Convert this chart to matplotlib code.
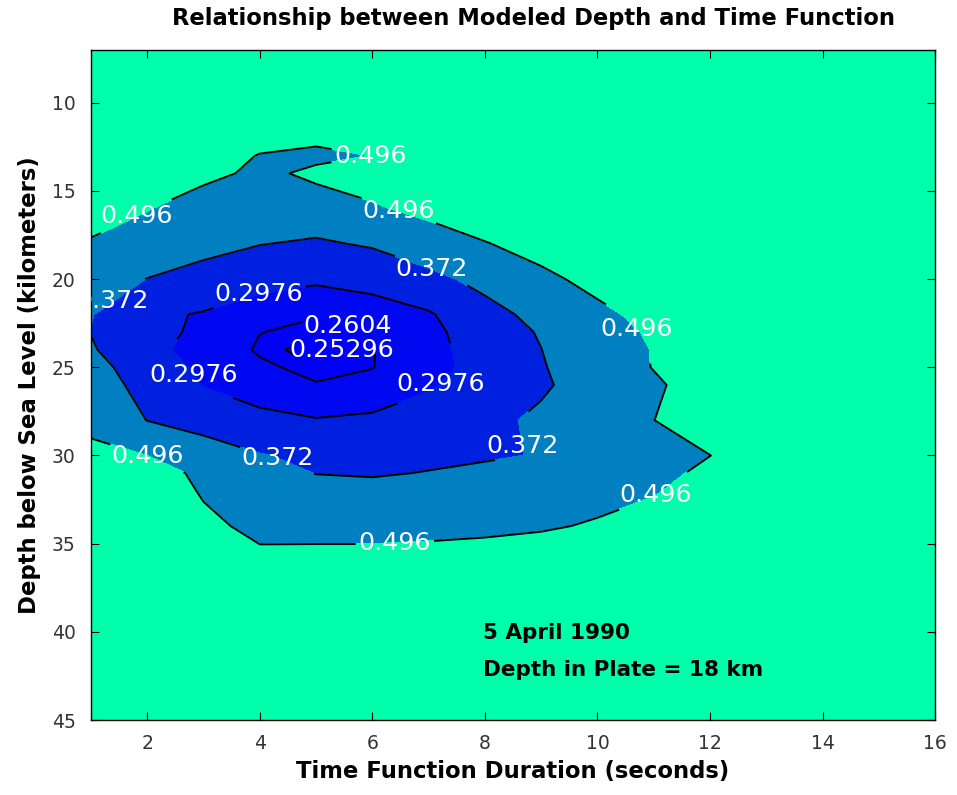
import matplotlib
matplotlib.use("Agg")
import matplotlib.pyplot as plt
import numpy as np

plt.rcParams['font.family'] = ['DejaVu Sans']

# time function duration (s) and modeled depth (km) of the grid search
duration_s = [1, 2, 3, 4, 5, 6, 7, 8, 9, 10, 11, 12, 13, 16]
depth_km = [7, 12, 13, 14, 15, 16, 18, 20, 22, 23, 24, 25, 26, 28, 30, 31, 32, 34, 36, 45]

# waveform misfit, one row per depth
misfit = [
    [0.95, 0.92, 0.88, 0.85, 0.83, 0.84, 0.86, 0.88, 0.90, 0.92, 0.94, 0.96, 0.98, 1.05],
    [0.75, 0.68, 0.61, 0.54, 0.52, 0.53, 0.60, 0.64, 0.68, 0.72, 0.76, 0.80, 0.84, 0.92],
    [0.70, 0.63, 0.56, 0.49, 0.47, 0.497, 0.56, 0.60, 0.64, 0.68, 0.72, 0.76, 0.80, 0.90],
    [0.66, 0.59, 0.53, 0.47, 0.52, 0.52, 0.55, 0.59, 0.63, 0.67, 0.71, 0.75, 0.79, 0.88],
    [0.62, 0.55, 0.48, 0.45, 0.48, 0.52, 0.55, 0.58, 0.62, 0.66, 0.70, 0.74, 0.78, 0.86],
    [0.57, 0.50, 0.45, 0.42, 0.42, 0.48, 0.53, 0.57, 0.61, 0.65, 0.69, 0.73, 0.77, 0.85],
    [0.48, 0.445, 0.395, 0.374, 0.362, 0.38, 0.43, 0.49, 0.54, 0.58, 0.62, 0.66, 0.70, 0.80],
    [0.42, 0.37, 0.345, 0.32, 0.305, 0.315, 0.345, 0.40, 0.47, 0.53, 0.57, 0.61, 0.65, 0.76],
    [0.375, 0.31, 0.293, 0.265, 0.262, 0.275, 0.292, 0.34, 0.40, 0.47, 0.53, 0.57, 0.61, 0.72],
    [0.37, 0.31, 0.29, 0.261, 0.2545, 0.2602, 0.287, 0.32, 0.38, 0.45, 0.51, 0.56, 0.60, 0.71],
    [0.38, 0.31, 0.28, 0.257, 0.248, 0.259, 0.285, 0.315, 0.371, 0.44, 0.50, 0.55, 0.59, 0.70],
    [0.40, 0.33, 0.286, 0.265, 0.253, 0.2595, 0.286, 0.31, 0.365, 0.43, 0.50, 0.55, 0.58, 0.69],
    [0.42, 0.34, 0.295, 0.275, 0.262, 0.27, 0.292, 0.32, 0.358, 0.42, 0.48, 0.55, 0.59, 0.69],
    [0.46, 0.37, 0.335, 0.31, 0.30, 0.305, 0.32, 0.345, 0.39, 0.44, 0.495, 0.56, 0.60, 0.70],
    [0.53, 0.495, 0.42, 0.376, 0.355, 0.35, 0.355, 0.365, 0.375, 0.42, 0.46, 0.495, 0.56, 0.68],
    [0.62, 0.55, 0.47, 0.40, 0.37, 0.365, 0.375, 0.385, 0.40, 0.43, 0.465, 0.52, 0.58, 0.69],
    [0.65, 0.57, 0.485, 0.43, 0.40, 0.395, 0.40, 0.41, 0.425, 0.45, 0.485, 0.55, 0.60, 0.70],
    [0.70, 0.62, 0.52, 0.47, 0.45, 0.45, 0.455, 0.465, 0.48, 0.51, 0.55, 0.60, 0.65, 0.75],
    [0.75, 0.68, 0.60, 0.52, 0.54, 0.54, 0.55, 0.56, 0.58, 0.60, 0.63, 0.67, 0.71, 0.80],
    [0.90, 0.88, 0.86, 0.84, 0.83, 0.83, 0.84, 0.85, 0.86, 0.88, 0.90, 0.92, 0.94, 1.00],
]

contour_levels = [0.25296, 0.2604, 0.2976, 0.372, 0.496]
fill_colors = ['#0000ff', '#0000f8', '#0008f2', '#0020e0', '#0080c0', '#00ffaa']

# where each contour gets its value written
label_spots = {
    0.496: [(6.3, 12.9), (1.8, 16.4), (6.5, 15.8), (10.7, 22.8),
            (2.0, 30.1), (11.1, 32.6), (6.4, 35.0)],
    0.372: [(7.1, 19.1), (1.55, 22.0), (8.6, 29.5), (4.3, 30.3)],
    0.2976: [(4.0, 21.0), (2.85, 25.4), (7.3, 26.2)],
    0.2604: [(5.6, 22.2)],
    0.25296: [(5.5, 24.2)],
}

X, Y = np.meshgrid(duration_s, depth_km)
Z = np.array(misfit)

fig = plt.figure(figsize=(9.57, 7.95), dpi=100)
ax = fig.add_axes([0.0951, 0.0943, 0.882, 0.843])
ax.set_facecolor(fill_colors[-1])

fill_levels = [Z.min() - 0.01] + contour_levels + [Z.max() + 0.01]
cf = ax.contourf(X, Y, Z, levels=fill_levels, colors=fill_colors)
cf.set_edgecolor('face')
cf.set_linewidth(0.5)

# one line set per level so each label lands on its own contour
for lev, spots in label_spots.items():
    cs = ax.contour(X, Y, Z, levels=[lev], colors='k', linewidths=1.4)
    txts = ax.clabel(cs, manual=spots, inline=True, inline_spacing=3,
                     fmt={lev: f'{lev:g}'}, colors='white', fontsize=18.3)
    for t in txts:
        t.set_rotation(0)

ax.set_xlim(1, 16)
ax.set_ylim(45, 7)
ax.set_xticks([2, 4, 6, 8, 10, 12, 14, 16])
ax.set_yticks([10, 15, 20, 25, 30, 35, 40, 45])
ax.tick_params(direction='in', top=True, right=True, length=6,
               labelsize=13.5, colors='black', labelcolor='#333333')
ax.tick_params(axis='x', pad=10)
ax.tick_params(axis='y', pad=11)
for sp in ax.spines.values():
    sp.set_linewidth(1.0)

ax.set_xlabel('Time Function Duration (seconds)', fontsize=16.4,
              fontweight='bold', labelpad=5)
ax.set_ylabel('Depth below Sea Level (kilometers)', fontsize=16.4,
              fontweight='bold', labelpad=8)
fig.text(533 / 957, 1 - 19 / 795, 'Relationship between Modeled Depth and Time Function',
         ha='center', va='center', fontsize=16.3, fontweight='bold')

ax.text(7.97, 40.05, '5 April 1990', fontsize=15.5, fontweight='bold', va='center')
ax.text(7.97, 42.15, 'Depth in Plate = 18 km', fontsize=15.5, fontweight='bold', va='center')

fig.savefig('out.png', dpi=100)
